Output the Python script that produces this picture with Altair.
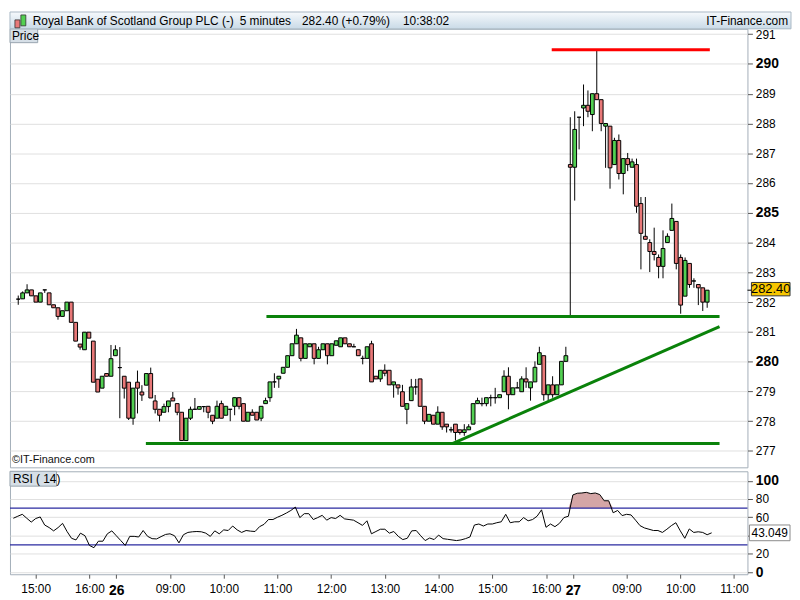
import json
import altair as alt
import pandas as pd

# ---------------- data (5-minute bars; index 0 = 15:00 on the 25th) ----------------
idx = list(range(-5, 152))

opens = [
    282.10, 282.11, 282.31, 282.41, 282.21, 282.00, 282.41, 282.31, 281.91, 281.81,
    281.52, 281.71, 282.00, 281.32, 280.59, 280.40, 280.99, 280.69, 279.41, 279.11,
    279.60, 279.51, 280.20, 279.80, 279.51, 279.31, 278.10, 279.31, 278.98, 279.21,
    279.60, 278.68, 278.40, 278.30, 278.49, 278.78, 278.59, 278.30, 277.35, 278.10,
    278.40, 278.40, 278.49, 278.50, 278.20, 278.10, 278.59, 278.20, 278.40, 278.50,
    278.79, 278.59, 278.00, 278.30, 278.30, 278.10, 278.59, 278.79, 279.32, 279.42,
    279.61, 279.81, 280.20, 280.60, 280.80, 280.11, 280.50, 280.60, 280.11, 280.40,
    280.60, 280.20, 280.55, 280.50, 280.80, 280.60, 280.50, 280.40, 280.11, 280.11,
    280.60, 279.51, 279.42, 279.71, 279.71, 279.22, 279.22, 278.99, 278.40, 278.69,
    279.15, 279.42, 278.50, 278.00, 278.20, 277.90, 278.30, 277.90, 277.71, 277.90,
    277.71, 277.62, 277.71, 277.90, 278.59, 278.59, 278.59, 278.79, 278.79, 278.79,
    278.99, 279.51, 278.89, 279.12, 278.99, 279.42, 279.12, 279.32, 279.91, 280.20,
    278.89, 279.22, 278.89, 279.22, 280.01, 286.62, 286.53, 288.21, 288.52, 288.61,
    288.30, 289.00, 288.80, 287.91, 287.91, 286.62, 287.43, 286.32, 286.82, 286.53,
    286.62, 285.31, 284.21, 284.00, 283.70, 283.50, 283.20, 284.00, 284.41, 284.71,
    283.50, 282.20, 283.30, 282.71, 282.59, 282.48, 282.00,
]
highs = [
    282.22, 282.36, 282.60, 282.41, 282.21, 282.31, 282.41, 282.31, 281.91, 281.81,
    281.71, 282.00, 282.00, 281.32, 280.59, 280.99, 280.99, 280.69, 279.41, 279.51,
    279.60, 280.56, 280.55, 280.49, 279.51, 279.31, 279.11, 279.70, 279.21, 279.60,
    279.80, 278.88, 278.40, 278.59, 278.68, 278.98, 278.59, 278.30, 278.10, 278.49,
    278.78, 278.49, 278.49, 278.50, 278.20, 278.69, 278.69, 278.50, 278.40, 278.79,
    278.79, 278.59, 278.30, 278.40, 278.30, 278.50, 278.79, 279.32, 279.61, 279.51,
    279.81, 280.20, 280.60, 281.10, 280.80, 280.60, 280.60, 280.60, 280.50, 280.60,
    280.60, 280.60, 280.70, 280.80, 280.80, 280.60, 280.60, 280.40, 280.20, 280.50,
    280.70, 279.51, 279.71, 279.91, 279.71, 279.32, 279.22, 279.22, 278.59, 279.42,
    279.42, 279.42, 278.50, 278.23, 278.20, 278.50, 278.30, 277.90, 277.81, 277.90,
    277.71, 277.90, 277.90, 278.59, 278.79, 278.79, 278.79, 278.89, 279.12, 278.89,
    279.71, 279.81, 279.12, 279.32, 279.51, 279.81, 279.32, 280.01, 280.50, 280.20,
    279.22, 279.51, 279.22, 280.01, 280.50, 288.21, 288.41, 288.21, 289.31, 289.11,
    289.00, 290.48, 288.80, 288.00, 287.91, 287.52, 287.63, 286.82, 287.01, 286.82,
    286.82, 285.53, 285.53, 284.11, 284.50, 283.60, 284.41, 284.31, 285.31, 284.71,
    283.60, 283.50, 283.30, 282.80, 282.59, 282.48, 282.40,
]
lows = [
    281.91, 282.11, 282.31, 282.21, 282.00, 282.00, 282.31, 281.91, 281.81, 281.41,
    281.52, 281.71, 281.32, 280.69, 280.40, 280.40, 280.79, 279.31, 278.98, 279.11,
    279.51, 279.51, 280.20, 278.10, 278.76, 278.04, 277.88, 278.26, 278.68, 279.21,
    278.78, 278.26, 277.99, 278.30, 278.30, 278.68, 278.20, 277.35, 277.35, 278.04,
    278.40, 278.40, 278.30, 278.10, 277.90, 278.10, 278.10, 278.20, 278.00, 278.20,
    278.40, 278.00, 278.00, 278.20, 278.04, 278.00, 278.59, 278.65, 279.12, 279.12,
    279.61, 279.81, 280.20, 280.60, 280.01, 280.11, 280.50, 279.91, 280.11, 280.40,
    279.91, 280.20, 280.55, 280.50, 280.60, 280.50, 280.50, 280.20, 279.91, 280.11,
    279.32, 279.42, 279.32, 279.51, 279.22, 278.79, 278.89, 278.50, 277.90, 278.69,
    278.89, 278.50, 277.90, 278.00, 277.90, 277.90, 277.71, 277.62, 277.62, 277.35,
    277.55, 277.51, 277.71, 277.90, 278.59, 278.50, 278.50, 278.50, 278.59, 278.79,
    278.99, 278.40, 278.89, 279.12, 278.99, 279.12, 278.69, 279.32, 279.91, 278.69,
    278.69, 278.79, 278.89, 279.22, 280.01, 281.53, 285.41, 287.13, 287.91, 288.21,
    287.74, 288.80, 287.74, 286.51, 285.81, 286.62, 286.12, 285.62, 286.40, 286.53,
    285.00, 283.10, 284.11, 283.01, 283.40, 282.80, 282.80, 284.00, 284.41, 283.10,
    281.61, 282.20, 282.48, 282.48, 281.90, 281.70, 281.81,
]
closes = [
    282.10, 282.31, 282.41, 282.21, 282.00, 282.31, 282.41, 281.91, 281.81, 281.52,
    281.71, 282.00, 281.32, 280.69, 280.49, 280.99, 280.79, 279.31, 278.98, 279.51,
    279.51, 280.10, 280.40, 279.80, 279.11, 278.10, 279.11, 279.11, 278.88, 279.60,
    278.78, 278.40, 278.20, 278.49, 278.68, 278.68, 278.30, 277.35, 278.10, 278.40,
    278.40, 278.49, 278.49, 278.30, 278.00, 278.50, 278.10, 278.50, 278.40, 278.79,
    278.50, 278.00, 278.30, 278.20, 278.04, 278.50, 278.69, 279.32, 279.32, 279.51,
    279.81, 280.20, 280.60, 280.89, 280.11, 280.60, 280.60, 280.11, 280.40, 280.60,
    280.20, 280.60, 280.70, 280.80, 280.60, 280.50, 280.50, 280.20, 280.11, 280.50,
    279.32, 279.42, 279.71, 279.61, 279.22, 279.32, 279.12, 278.50, 278.59, 279.15,
    279.15, 278.50, 278.00, 278.23, 277.90, 278.30, 277.81, 277.81, 277.71, 277.62,
    277.62, 277.71, 277.81, 278.59, 278.69, 278.59, 278.79, 278.79, 278.79, 278.89,
    279.51, 278.89, 279.12, 279.12, 279.42, 279.32, 279.32, 279.81, 280.30, 278.89,
    279.22, 278.89, 279.22, 280.01, 280.20, 286.53, 287.80, 288.21, 288.61, 288.41,
    289.00, 288.80, 288.00, 288.00, 286.51, 287.43, 286.32, 286.82, 286.62, 286.71,
    285.22, 284.31, 284.11, 283.70, 283.60, 283.20, 283.80, 284.21, 284.81, 283.30,
    281.90, 283.40, 282.59, 282.71, 282.48, 282.00, 282.40,
]
rsi = [
    59.0, 61.2, 63.3, 59.0, 54.8, 58.7, 60.4, 51.6, 48.8, 45.2,
    48.8, 53.4, 44.5, 37.1, 35.3, 42.7, 39.9, 29.3, 26.8, 33.9,
    33.9, 42.0, 45.2, 39.9, 34.6, 29.3, 39.2, 39.2, 38.5, 45.6,
    39.2, 36.7, 36.4, 38.9, 41.3, 42.0, 39.9, 32.1, 41.0, 43.5,
    44.2, 44.5, 44.2, 42.7, 39.2, 45.2, 42.0, 46.3, 45.6, 50.5,
    46.3, 43.5, 45.6, 44.9, 44.5, 49.8, 52.3, 57.6, 57.6, 60.1,
    62.2, 64.7, 67.5, 71.1, 59.7, 64.0, 64.0, 57.6, 59.7, 62.2,
    56.9, 59.7, 58.7, 62.2, 58.3, 57.6, 56.9, 54.1, 51.2, 56.2,
    42.0, 44.5, 47.0, 47.0, 42.7, 44.5, 39.2, 35.7, 37.1, 45.2,
    45.6, 39.9, 34.6, 37.4, 35.7, 40.6, 36.7, 36.0, 35.3, 34.6,
    35.3, 36.7, 38.5, 51.6, 52.7, 50.5, 52.7, 52.7, 54.1, 55.1,
    63.3, 54.1, 55.1, 55.1, 59.7, 56.2, 57.6, 61.2, 68.2, 49.1,
    52.7, 49.8, 53.4, 59.7, 61.2, 84.5, 86.3, 86.6, 87.3, 85.9,
    86.6, 84.9, 78.1, 78.1, 65.0, 67.5, 61.9, 63.3, 62.6, 56.9,
    50.9, 48.4, 47.0, 45.6, 45.6, 43.5, 47.0, 50.9, 54.1, 45.2,
    37.1, 47.3, 43.5, 44.2, 43.5, 41.0, 43.049,
]

tick_idx = [0, 12, 18, 30, 42, 54, 66, 78, 90, 102, 114, 120, 132, 144, 156]
tick_labels = ["15:00", "16:00", "26", "09:00", "10:00", "11:00", "12:00", "13:00",
               "14:00", "15:00", "16:00", "27", "09:00", "10:00", "11:00"]
day_idx = [18, 120]
price_ticks = list(range(277, 292))
rsi_ticks = [0, 20, 40, 60, 80, 100]
rsi_levels = [30, 70]

# drawn support / resistance lines (bar index, price)
line_x1 = [51.2, 23.9, 115.8, 93.3]
line_x2 = [153.8, 153.8, 151.6, 153.8]
line_y1 = [281.52, 277.25, 290.48, 277.25]
line_y2 = [281.52, 277.25, 290.48, 281.18]
line_color = ["#0a820a", "#0a820a", "#ff0000", "#0a820a"]

title_parts = ["Royal Bank of Scotland Group PLC (-)", "5 minutes", "282.40 (+0.79%)", "10:38:02"]
title_x = [23, 232, 295, 397]

# ---------------- layout ----------------
FONT = "Liberation Sans"
W = 745
HH = 17
HM = 443
HR = 104
XDOM = [-5.75, 159]
PDOM = [276.45, 291.18]
RDOM = [-2.2, 110.3]
GREEN = "#52d052"
RED = "#e87878"
GRID = "#e0e0e0"

df = pd.DataFrame({"idx": idx, "open": opens, "high": highs, "low": lows,
                   "close": closes, "rsi": rsi})
assert len(set(len(v) for v in [idx, opens, highs, lows, closes, rsi])) == 1

xscale = alt.Scale(domain=XDOM, nice=False, zero=False)
one_row = pd.DataFrame({"a": [0]})


def price_axis():
    bold = "datum.value % 5 == 0"
    return alt.Axis(orient="right", values=price_ticks, grid=True, gridColor=GRID,
                    tickSize=5, tickColor="#555", labelPadding=3, domain=False,
                    labelOverlap=False, labelBound=False, labelFlush=False,
                    labelFontSize=alt.condition(bold, alt.value(14), alt.value(12)),
                    labelFontWeight=alt.condition(bold, alt.value("bold"), alt.value("normal")),
                    labelColor="#000", labelFont=FONT, title=None)


def rsi_axis():
    bold = "datum.value == 0 || datum.value == 100"
    return alt.Axis(orient="right", values=rsi_ticks, grid=True, gridColor=GRID,
                    tickSize=5, tickColor="#555", labelPadding=3, domain=False,
                    labelOverlap=False, labelBound=False, labelFlush=False,
                    labelExpr="datum.value == 40 ? '' : datum.label",
                    labelFontSize=alt.condition(bold, alt.value(14), alt.value(12)),
                    labelFontWeight=alt.condition(bold, alt.value("bold"), alt.value("normal")),
                    labelColor="#000", labelFont=FONT, title=None)


pscale = alt.Scale(domain=PDOM, nice=False, zero=False)
rscale = alt.Scale(domain=RDOM, nice=False, zero=False)


def PY(field):
    return alt.Y(field, scale=pscale, axis=price_axis())


def RY(field):
    return alt.Y(field, scale=rscale, axis=rsi_axis())


# ---------------- header (drawn above the price panel) ----------------
hdr_bg = alt.Chart(one_row).mark_rect(
    fill=alt.Gradient(gradient="linear",
                      stops=[alt.GradientStop(color="#f6f9fc", offset=0),
                             alt.GradientStop(color="#c9dae7", offset=1)],
                      x1=0, x2=0, y1=0, y2=1),
    stroke="#a9b8c4", strokeWidth=1,
).encode(x=alt.value(0), x2=alt.value(W + 44), y=alt.value(-HH), y2=alt.value(0))
icon_r = alt.Chart(one_row).mark_rect(fill=RED, stroke="#333", strokeWidth=0.8).encode(
    x=alt.value(5), x2=alt.value(10), y=alt.value(-HH + 8), y2=alt.value(-HH + 16))
icon_g = alt.Chart(one_row).mark_rect(fill=GREEN, stroke="#333", strokeWidth=0.8).encode(
    x=alt.value(11), x2=alt.value(16), y=alt.value(-HH + 3), y2=alt.value(-HH + 14))
hdr_layers = [hdr_bg, icon_r, icon_g]
for part, px in zip(title_parts, title_x):
    hdr_layers.append(
        alt.Chart(pd.DataFrame({"t": [part]})).mark_text(
            align="left", baseline="middle", fontSize=12, font=FONT, color="#000").encode(
            x=alt.value(px), y=alt.value(-HH / 2 + 0.5), text="t:N"))
hdr_layers.append(
    alt.Chart(pd.DataFrame({"t": ["IT-Finance.com"]})).mark_text(
        align="right", baseline="middle", fontSize=12, font=FONT, color="#000").encode(
        x=alt.value(W + 41), y=alt.value(-HH / 2 + 0.5), text="t:N"))

# ---------------- main price panel ----------------
base = alt.Chart(df).encode(x=alt.X("idx:Q", scale=xscale, axis=None))
wick = base.mark_rule(color="#000", strokeWidth=1).encode(y=PY("low:Q"), y2="high:Q")
body = base.mark_bar(size=3.8, stroke="#000", strokeWidth=1).encode(
    y=PY("open:Q"), y2="close:Q",
    fill=alt.condition("datum.close >= datum.open", alt.value(GREEN), alt.value(RED)))

lines_df = pd.DataFrame({"x1": line_x1, "x2": line_x2, "y1": line_y1, "y2": line_y2, "c": line_color})
ann = alt.Chart(lines_df).mark_rule(strokeWidth=3).encode(
    x=alt.X("x1:Q", scale=xscale, axis=None), x2="x2:Q",
    y=PY("y1:Q"), y2="y2:Q",
    color=alt.Color("c:N", scale=None))

last_df = pd.DataFrame({"p": [closes[-1]], "lo": [closes[-1] - 0.19], "hi": [closes[-1] + 0.26],
                        "t": [f"{closes[-1]:.2f}"]})
plab_rect = alt.Chart(last_df).mark_rect(fill="#f7c600", stroke="#333", strokeWidth=1).encode(
    x=alt.value(W + 4), x2=alt.value(W + 43), y=PY("lo:Q"), y2="hi:Q")
plab_tick = alt.Chart(last_df).mark_rule(color="#000", strokeWidth=1).encode(
    x=alt.value(W), x2=alt.value(W + 4), y=PY("p:Q"))
plab_txt = alt.Chart(last_df).mark_text(fontSize=13, font=FONT, align="center",
                                        baseline="middle", dy=-1, color="#000").encode(
    x=alt.value(W + 23.5), y=PY("p:Q"), text="t:N")

one = pd.DataFrame({"t": ["Price"]})
price_box = alt.Chart(one).mark_rect(fill="#d6dfe7", stroke="#98a4ae", strokeWidth=1).encode(
    x=alt.value(0), x2=alt.value(28), y=alt.value(0), y2=alt.value(14))
price_txt = alt.Chart(one).mark_text(align="left", baseline="middle", fontSize=12, font=FONT,
                                     color="#000").encode(x=alt.value(2), y=alt.value(7.5), text="t:N")
copy_txt = alt.Chart(pd.DataFrame({"t": ["\u00a9IT-Finance.com"]})).mark_text(
    align="left", baseline="middle", fontSize=11, font=FONT, color="#111").encode(
    x=alt.value(2), y=alt.value(HM - 7), text="t:N")

main = alt.layer(wick, body, ann, plab_rect, plab_tick, plab_txt,
                 price_box, price_txt, copy_txt, *hdr_layers).properties(width=W, height=HM)

# ---------------- RSI panel ----------------
label_expr = f"{json.dumps(tick_labels)}[indexof({json.dumps(tick_idx)}, datum.value)]"
day_test = f"indexof({json.dumps(day_idx)}, datum.value) >= 0"
x_axis = alt.Axis(values=tick_idx, labelExpr=label_expr, grid=False, tickSize=4,
                  tickColor="#555", domain=False, labelPadding=5, labelColor="#000",
                  labelFont=FONT, labelOverlap=False,
                  labelFontSize=alt.condition(day_test, alt.value(14), alt.value(12)),
                  labelFontWeight=alt.condition(day_test, alt.value("bold"), alt.value("normal")),
                  title=None)
rbase = alt.Chart(df).encode(x=alt.X("idx:Q", scale=xscale, axis=x_axis))
rfill = rbase.transform_calculate(top="max(datum.rsi, 70)", base="70").mark_area(
    color="#d4a6a6").encode(y=RY("top:Q"), y2="base:Q")
rlev = alt.Chart(pd.DataFrame({"lvl": rsi_levels})).mark_rule(color="#2a2aa0", strokeWidth=1.3).encode(
    y=RY("lvl:Q"))
rline = rbase.mark_line(color="#000", strokeWidth=1).encode(y=RY("rsi:Q"))

rl_df = pd.DataFrame({"v": [rsi[-1]], "lo": [rsi[-1] - 8.6], "hi": [rsi[-1] + 8.6],
                      "t": [f"{rsi[-1]:.3f}"]})
rlab_rect = alt.Chart(rl_df).mark_rect(fill="#ffffff", stroke="#8a8a8a", strokeWidth=1).encode(
    x=alt.value(W + 2), x2=alt.value(W + 43), y=RY("lo:Q"), y2="hi:Q")
rlab_txt = alt.Chart(rl_df).mark_text(fontSize=12, font=FONT, align="center", baseline="middle",
                                      color="#000").encode(
    x=alt.value(W + 22.5), y=RY("v:Q"), text="t:N")
rone = pd.DataFrame({"t": ["RSI ( 14)"]})
rsi_box = alt.Chart(rone).mark_rect(fill="#d6dfe7", stroke="#98a4ae", strokeWidth=1).encode(
    x=alt.value(0), x2=alt.value(47), y=alt.value(0), y2=alt.value(15))
rsi_txt = alt.Chart(rone).mark_text(align="left", baseline="middle", fontSize=12, font=FONT,
                                    color="#000").encode(x=alt.value(3), y=alt.value(8), text="t:N")

rsi_panel = alt.layer(rfill, rlev, rline, rlab_rect, rlab_txt, rsi_box, rsi_txt).properties(
    width=W, height=HR)

chart = alt.vconcat(main, rsi_panel, spacing=2).properties(
    padding=0, background="#ffffff"
).configure(font=FONT).configure_view(stroke="#a3aeb8", strokeWidth=1)

chart.save("out.html", embed_options={"renderer": "svg", "actions": False})
